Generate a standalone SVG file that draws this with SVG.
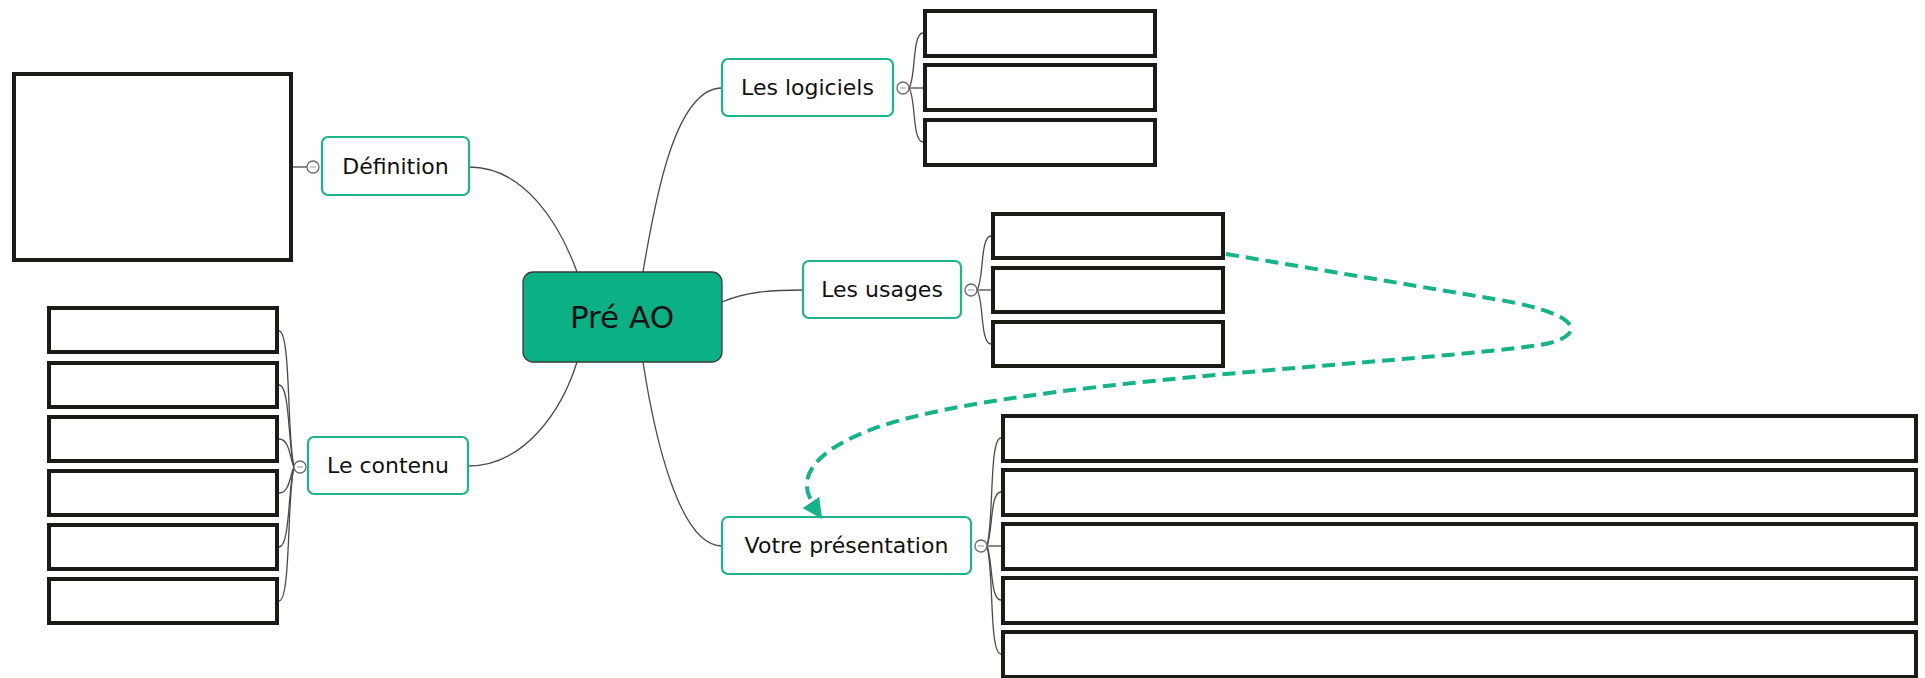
<svg xmlns="http://www.w3.org/2000/svg" width="1925" height="678" viewBox="0 0 1925 678">
  <style>
    .bg { fill: #ffffff; }
    .link { fill: none; stroke: #4a4a4a; stroke-width: 1.3; }
    .leaf { fill: #ffffff; stroke: #1c1c16; stroke-width: 4; }
    .topic { fill: #ffffff; stroke: #1db38c; stroke-width: 2.2; }
    .central { fill: #0cb085; stroke: #3a3a3a; stroke-width: 1.3; }
    .label { font-family: "DejaVu Sans", "Liberation Sans", sans-serif; font-size: 22px; fill: #111111; text-anchor: middle; dominant-baseline: central; }
    .title { font-size: 31px; }
    .fold { fill: #ffffff; stroke: #6a6a6a; stroke-width: 1.3; }
    .minus { stroke: #8a96c8; stroke-width: 1; }
    .relation { fill: none; stroke: #14b38a; stroke-width: 4; stroke-dasharray: 13 7; }
  </style>
  <defs>
    <marker id="relArrow" viewBox="0 0 10 10" refX="10" refY="5" markerWidth="5" markerHeight="5" orient="auto" markerUnits="strokeWidth">
      <path d="M0,0 L10,5 L0,10 Z" fill="#14b38a"/>
    </marker>
  </defs>
  <rect class="bg" x="0" y="0" width="1925" height="678"/>

  <!-- connectors -->
  <g id="connectors">
    <!-- central topic to main topics -->
    <path class="link" d="M469,167 C 525,167 560,225 577,272"/>
    <path class="link" d="M468,466 C 525,466 562,410 577,362"/>
    <path class="link" d="M643,272 C 655,200 675,88 722,88"/>
    <path class="link" d="M722,302 C 745,292 770,290 803,290"/>
    <path class="link" d="M643,362 C 655,440 680,546 722,546"/>

    <!-- Définition -->
    <line class="link" x1="293" y1="167" x2="307" y2="167"/>

    <!-- Le contenu -->
    <path class="link" d="M294,467 C 287,440 291,331 279,331"/>
    <path class="link" d="M294,467 C 288,445 290,385 279,385"/>
    <path class="link" d="M294,467 C 290,460 290,439 279,439"/>
    <path class="link" d="M294,467 C 290,474 290,493 279,493"/>
    <path class="link" d="M294,467 C 288,489 290,547 279,547"/>
    <path class="link" d="M294,467 C 287,494 291,601 279,601"/>

    <!-- Les logiciels -->
    <path class="link" d="M909,88 C 916,78 912,33 923,33"/>
    <line class="link" x1="909" y1="88" x2="923" y2="88"/>
    <path class="link" d="M909,88 C 916,98 912,142 923,142"/>

    <!-- Les usages -->
    <path class="link" d="M977,290 C 984,280 980,236 991,236"/>
    <line class="link" x1="977" y1="290" x2="991" y2="290"/>
    <path class="link" d="M977,290 C 984,300 980,344 991,344"/>

    <!-- Votre présentation -->
    <path class="link" d="M987,546 C 994,520 989,438 1001,438"/>
    <path class="link" d="M987,546 C 993,530 990,492 1001,492"/>
    <line class="link" x1="987" y1="546" x2="1001" y2="546"/>
    <path class="link" d="M987,546 C 993,562 990,600 1001,600"/>
    <path class="link" d="M987,546 C 994,572 989,654 1001,654"/>
  </g>

  <!-- central topic -->
  <g id="node-central">
    <rect class="central" x="523" y="272" width="199" height="90" rx="10"/>
    <text class="label title" x="622" y="317">Pré AO</text>
  </g>

  <!-- Définition -->
  <g id="node-definition">
    <rect class="topic" x="322" y="137" width="147" height="58" rx="6"/>
    <text class="label" x="395.5" y="166">Définition</text>
    <circle class="fold" cx="313" cy="167" r="6"/>
    <line class="minus" x1="310" y1="167" x2="316" y2="167"/>
  </g>
  <g id="node-definition-box">
    <rect class="leaf" x="14" y="74" width="277" height="186"/>
  </g>

  <!-- Le contenu -->
  <g id="node-contenu">
    <rect class="topic" x="308" y="437" width="160" height="57" rx="6"/>
    <text class="label" x="388" y="465">Le contenu</text>
    <circle class="fold" cx="300" cy="467" r="6"/>
    <line class="minus" x1="297" y1="467" x2="303" y2="467"/>
  </g>
  <g id="node-contenu-boxes">
    <rect class="leaf" x="49" y="308" width="228" height="44"/>
    <rect class="leaf" x="49" y="363" width="228" height="44"/>
    <rect class="leaf" x="49" y="417" width="228" height="44"/>
    <rect class="leaf" x="49" y="471" width="228" height="44"/>
    <rect class="leaf" x="49" y="525" width="228" height="44"/>
    <rect class="leaf" x="49" y="579" width="228" height="44"/>
  </g>

  <!-- Les logiciels -->
  <g id="node-logiciels">
    <rect class="topic" x="722" y="59" width="171" height="57" rx="6"/>
    <text class="label" x="807.5" y="87">Les logiciels</text>
    <circle class="fold" cx="903" cy="88" r="6"/>
    <line class="minus" x1="900" y1="88" x2="906" y2="88"/>
  </g>
  <g id="node-logiciels-boxes">
    <rect class="leaf" x="925" y="11" width="230" height="45"/>
    <rect class="leaf" x="925" y="65" width="230" height="45"/>
    <rect class="leaf" x="925" y="120" width="230" height="45"/>
  </g>

  <!-- Les usages -->
  <g id="node-usages">
    <rect class="topic" x="803" y="261" width="158" height="57" rx="6"/>
    <text class="label" x="882" y="289">Les usages</text>
    <circle class="fold" cx="971" cy="290" r="6"/>
    <line class="minus" x1="968" y1="290" x2="974" y2="290"/>
  </g>
  <g id="node-usages-boxes">
    <rect class="leaf" x="993" y="214" width="230" height="44"/>
    <rect class="leaf" x="993" y="268" width="230" height="44"/>
    <rect class="leaf" x="993" y="322" width="230" height="44"/>
  </g>

  <!-- Votre présentation -->
  <g id="node-presentation">
    <rect class="topic" x="722" y="517" width="249" height="57" rx="6"/>
    <text class="label" x="846.5" y="545">Votre présentation</text>
    <circle class="fold" cx="981" cy="546" r="6"/>
    <line class="minus" x1="978" y1="546" x2="984" y2="546"/>
  </g>
  <g id="node-presentation-boxes">
    <rect class="leaf" x="1003" y="416" width="913" height="45"/>
    <rect class="leaf" x="1003" y="470" width="913" height="45"/>
    <rect class="leaf" x="1003" y="524" width="913" height="45"/>
    <rect class="leaf" x="1003" y="578" width="913" height="45"/>
    <rect class="leaf" x="1003" y="632" width="913" height="45"/>
  </g>

  <!-- relationship: Les usages -> Votre présentation, drawn over the topics -->
  <g id="relationship">
    <path class="relation" marker-end="url(#relArrow)" d="M1226,254 L1500,300 C 1592,316 1582,338 1540,345 C 1400,365 1000,380 870,430 C 812,452 800,478 810,498 C 814,506 818,513 822,519"/>
  </g>
</svg>
